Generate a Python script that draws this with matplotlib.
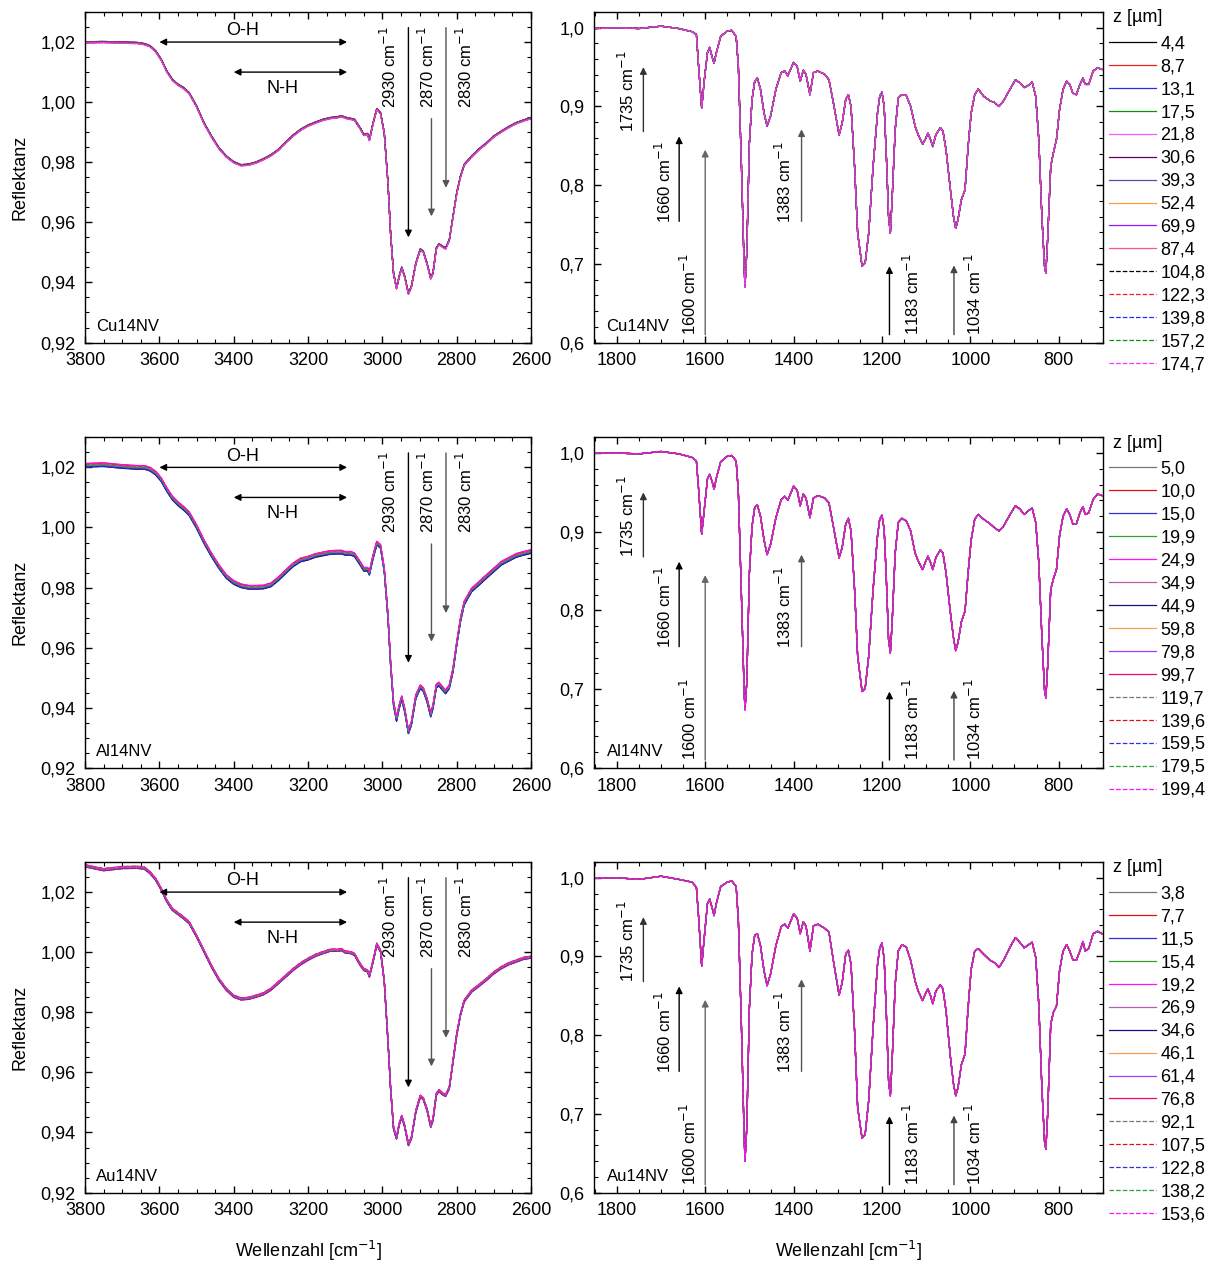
import numpy as np
import matplotlib
matplotlib.use("Agg")
import matplotlib.pyplot as plt
from matplotlib.ticker import MultipleLocator, FuncFormatter

plt.rcParams['font.family'] = ['Liberation Sans', 'DejaVu Sans']
plt.rcParams['font.size'] = 13

wn_left = [3800, 3750, 3700, 3660, 3640, 3625, 3610, 3595, 3580, 3565, 3550, 3535, 3520,
           3500, 3480, 3460, 3440, 3420, 3400, 3380, 3360, 3340, 3320, 3300, 3280, 3260,
           3240, 3220, 3200, 3180, 3160, 3140, 3120, 3110, 3100, 3085, 3075, 3060, 3050,
           3040, 3035, 3025, 3015, 3005, 2995, 2985, 2978, 2970, 2962, 2955, 2948, 2940,
           2930, 2922, 2910, 2898, 2890, 2880, 2870, 2864, 2855, 2848, 2838, 2830, 2820,
           2810, 2800, 2790, 2780, 2760, 2740, 2720, 2700, 2680, 2660, 2640, 2620, 2600]

refl_cu_left = [1.0199, 1.0200, 1.0198, 1.0197, 1.0193, 1.0186, 1.0169, 1.0141, 1.0102, 1.0074,
                1.0058, 1.0047, 1.0030, 0.9986, 0.9930, 0.9886, 0.9847, 0.9819, 0.9800, 0.9790,
                0.9792, 0.9799, 0.9810, 0.9823, 0.9841, 0.9866, 0.9889, 0.9908, 0.9922, 0.9932,
                0.9941, 0.9947, 0.9950, 0.9953, 0.9948, 0.9944, 0.9941, 0.9913, 0.9891, 0.9894,
                0.9874, 0.9930, 0.9977, 0.9963, 0.9897, 0.9730, 0.9563, 0.9430, 0.9380, 0.9419,
                0.9449, 0.9419, 0.9363, 0.9386, 0.9463, 0.9510, 0.9502, 0.9463, 0.9413, 0.9430,
                0.9513, 0.9527, 0.9519, 0.9513, 0.9541, 0.9619, 0.9697, 0.9752, 0.9791, 0.9819,
                0.9843, 0.9863, 0.9886, 0.9902, 0.9917, 0.9930, 0.9939, 0.9947]

refl_al_left = [1.0207, 1.0209, 1.0203, 1.0200, 1.0200, 1.0194, 1.0181, 1.0159, 1.0126, 1.0098,
                1.0079, 1.0064, 1.0046, 1.0003, 0.9953, 0.9909, 0.9870, 0.9837, 0.9817, 0.9806,
                0.9801, 0.9801, 0.9802, 0.9809, 0.9829, 0.9853, 0.9876, 0.9892, 0.9898, 0.9907,
                0.9912, 0.9917, 0.9918, 0.9918, 0.9914, 0.9914, 0.9909, 0.9881, 0.9861, 0.9861,
                0.9848, 0.9903, 0.9948, 0.9937, 0.9859, 0.9703, 0.9548, 0.9414, 0.9361, 0.9403,
                0.9433, 0.9392, 0.9320, 0.9348, 0.9437, 0.9470, 0.9461, 0.9426, 0.9376, 0.9403,
                0.9472, 0.9479, 0.9464, 0.9453, 0.9470, 0.9526, 0.9614, 0.9692, 0.9748, 0.9792,
                0.9814, 0.9837, 0.9859, 0.9881, 0.9894, 0.9907, 0.9914, 0.9920]

refl_au_left = [1.0287, 1.0274, 1.0281, 1.0282, 1.0279, 1.0264, 1.0242, 1.0209, 1.0170, 1.0142,
                1.0128, 1.0114, 1.0098, 1.0053, 1.0003, 0.9953, 0.9909, 0.9876, 0.9853, 0.9844,
                0.9846, 0.9853, 0.9861, 0.9876, 0.9898, 0.9920, 0.9942, 0.9961, 0.9976, 0.9989,
                0.9998, 1.0006, 1.0006, 1.0008, 1.0000, 0.9998, 0.9992, 0.9959, 0.9942, 0.9937,
                0.9920, 0.9970, 1.0026, 1.0003, 0.9903, 0.9703, 0.9548, 0.9414, 0.9381, 0.9426,
                0.9453, 0.9420, 0.9359, 0.9381, 0.9470, 0.9520, 0.9512, 0.9476, 0.9420, 0.9442,
                0.9526, 0.9539, 0.9528, 0.9523, 0.9548, 0.9637, 0.9726, 0.9792, 0.9837, 0.9870,
                0.9889, 0.9909, 0.9931, 0.9948, 0.9961, 0.9970, 0.9979, 0.9983]

wn_right = [1852, 1800, 1750, 1700, 1660, 1630, 1620, 1615, 1608, 1602, 1595, 1590, 1584, 1580,
            1575, 1565, 1550, 1540, 1530, 1525, 1518, 1512, 1510, 1506, 1500, 1494, 1488, 1482,
            1475, 1467, 1460, 1452, 1440, 1428, 1420, 1413, 1400, 1392, 1385, 1378, 1372, 1363,
            1355, 1345, 1330, 1320, 1310, 1297, 1290, 1282, 1276, 1270, 1262, 1255, 1245, 1238,
            1230, 1220, 1210, 1205, 1200, 1195, 1190, 1185, 1181, 1177, 1170, 1163, 1155, 1145,
            1135, 1125, 1118, 1108, 1102, 1096, 1090, 1085, 1078, 1068, 1062, 1055, 1045, 1038,
            1033, 1028, 1020, 1012, 1005, 998, 990, 982, 970, 955, 945, 935, 925, 910, 898, 888,
            878, 868, 860, 852, 845, 838, 832, 829, 825, 818, 812, 805, 798, 790, 782, 775, 768,
            760, 752, 745, 740, 732, 722, 712, 702]

refl_cu_right = [0.999, 1.000, 0.999, 1.002, 0.999, 0.995, 0.9915, 0.951, 0.898, 0.934, 0.968,
                 0.975, 0.962, 0.955, 0.968, 0.989, 0.996, 0.9966, 0.989, 0.951, 0.824, 0.697,
                 0.671, 0.714, 0.854, 0.909, 0.932, 0.936, 0.922, 0.892, 0.875, 0.888, 0.922,
                 0.943, 0.945, 0.939, 0.956, 0.951, 0.932, 0.946, 0.941, 0.915, 0.943, 0.945,
                 0.941, 0.934, 0.905, 0.864, 0.879, 0.909, 0.915, 0.900, 0.824, 0.739, 0.697,
                 0.701, 0.739, 0.824, 0.892, 0.913, 0.918, 0.900, 0.837, 0.760, 0.739, 0.782,
                 0.871, 0.911, 0.915, 0.914, 0.900, 0.875, 0.864, 0.852, 0.858, 0.866, 0.858,
                 0.849, 0.864, 0.873, 0.869, 0.845, 0.794, 0.760, 0.745, 0.756, 0.782, 0.794,
                 0.849, 0.892, 0.915, 0.922, 0.913, 0.907, 0.905, 0.900, 0.907, 0.922, 0.934,
                 0.930, 0.924, 0.927, 0.931, 0.913, 0.858, 0.760, 0.697, 0.688, 0.731, 0.824,
                 0.841, 0.858, 0.896, 0.922, 0.932, 0.928, 0.917, 0.915, 0.928, 0.936, 0.928,
                 0.928, 0.945, 0.949, 0.947]

refl_al_right = [1.000, 1.000, 0.999, 1.002, 0.999, 0.9945, 0.990, 0.954, 0.897, 0.929, 0.967,
                 0.973, 0.963, 0.954, 0.968, 0.989, 0.996, 0.997, 0.990, 0.950, 0.818, 0.699,
                 0.674, 0.708, 0.848, 0.907, 0.931, 0.934, 0.920, 0.890, 0.871, 0.884, 0.918,
                 0.941, 0.945, 0.940, 0.958, 0.953, 0.933, 0.948, 0.943, 0.918, 0.943, 0.946,
                 0.943, 0.937, 0.907, 0.867, 0.880, 0.910, 0.917, 0.901, 0.827, 0.742, 0.697,
                 0.701, 0.742, 0.827, 0.895, 0.916, 0.921, 0.903, 0.839, 0.763, 0.746, 0.784,
                 0.873, 0.912, 0.917, 0.914, 0.901, 0.873, 0.863, 0.852, 0.861, 0.869, 0.861,
                 0.852, 0.867, 0.877, 0.873, 0.848, 0.797, 0.765, 0.749, 0.759, 0.786, 0.799,
                 0.848, 0.890, 0.916, 0.922, 0.916, 0.910, 0.905, 0.901, 0.907, 0.922, 0.933,
                 0.929, 0.922, 0.927, 0.930, 0.912, 0.861, 0.767, 0.699, 0.689, 0.729, 0.827,
                 0.840, 0.852, 0.895, 0.920, 0.929, 0.922, 0.910, 0.910, 0.924, 0.932, 0.922,
                 0.924, 0.941, 0.948, 0.946]

refl_au_right = [1.000, 1.000, 0.998, 1.002, 0.998, 0.9945, 0.988, 0.950, 0.888, 0.925, 0.967,
                 0.973, 0.961, 0.952, 0.967, 0.989, 0.9945, 0.996, 0.989, 0.946, 0.810, 0.674,
                 0.640, 0.682, 0.835, 0.903, 0.927, 0.929, 0.914, 0.882, 0.863, 0.878, 0.914,
                 0.938, 0.941, 0.936, 0.954, 0.949, 0.929, 0.944, 0.939, 0.907, 0.939, 0.941,
                 0.936, 0.931, 0.895, 0.851, 0.867, 0.903, 0.908, 0.890, 0.806, 0.708, 0.669,
                 0.674, 0.717, 0.810, 0.890, 0.911, 0.917, 0.897, 0.827, 0.742, 0.723, 0.767,
                 0.865, 0.907, 0.915, 0.912, 0.895, 0.869, 0.856, 0.844, 0.852, 0.859, 0.850,
                 0.840, 0.856, 0.864, 0.859, 0.831, 0.772, 0.738, 0.723, 0.733, 0.763, 0.776,
                 0.835, 0.884, 0.907, 0.910, 0.903, 0.895, 0.892, 0.886, 0.895, 0.912, 0.924,
                 0.918, 0.911, 0.915, 0.918, 0.899, 0.839, 0.733, 0.665, 0.655, 0.699, 0.814,
                 0.829, 0.837, 0.882, 0.907, 0.915, 0.907, 0.896, 0.895, 0.907, 0.919, 0.907,
                 0.910, 0.929, 0.932, 0.929]

# Messtiefen z [um]
z_cu = ['4,4', '8,7', '13,1', '17,5', '21,8', '30,6', '39,3', '52,4', '69,9', '87,4',
        '104,8', '122,3', '139,8', '157,2', '174,7']
z_al = ['5,0', '10,0', '15,0', '19,9', '24,9', '34,9', '44,9', '59,8', '79,8', '99,7',
        '119,7', '139,6', '159,5', '179,5', '199,4']
z_au = ['3,8', '7,7', '11,5', '15,4', '19,2', '26,9', '34,6', '46,1', '61,4', '76,8',
        '92,1', '107,5', '122,8', '138,2', '153,6']

# kleine Streuung der einzelnen Tiefen um die Mittelkurve (linke Bereiche)
spread_cu = [0.0001, -0.0001, 0.0002, 0.0, -0.0002, 0.0001, -0.0001, 0.0, 0.0002, -0.0002,
             0.0001, 0.0002, -0.0001, 0.0, -0.0002]
spread_al = [-0.0006, 0.0004, -0.0003, 0.0002, 0.0005, -0.0004, -0.0006, 0.0003, 0.0, 0.0006,
             -0.0002, 0.0004, -0.0005, 0.0001, 0.0006]
spread_au = [0.0002, 0.0004, -0.0002, 0.0001, -0.0003, 0.0003, -0.0001, 0.0, 0.0002, -0.0003,
             0.0001, 0.0004, -0.0002, 0.0, 0.0003]

colors_cu = ['black', '#ee2020', '#2030ee', '#109010', '#ff55ff', '#660060', '#5050a8',
             '#ff9a40', '#8a1aff', '#ff5090', 'black', '#ee2020', '#2030ee', '#109010', '#ff30ff']
colors_ag = ['#777777', '#e01010', '#3030d8', '#30a030', '#ff10ff', '#b060b0', '#101080',
             '#f5a050', '#a040ff', '#ff0070', '#777777', '#e01010', '#3030d8', '#30a030', '#ff10ff']
styles = ['-'] * 10 + ['--'] * 5

samples = [
    ('Cu14NV', refl_cu_left, refl_cu_right, z_cu, spread_cu, colors_cu),
    ('Al14NV', refl_al_left, refl_al_right, z_al, spread_al, colors_ag),
    ('Au14NV', refl_au_left, refl_au_right, z_au, spread_au, colors_ag),
]


def komma(x, nd):
    return f'{x:.{nd}f}'.replace('.', ',')


def style_axes(ax):
    ax.tick_params(which='both', direction='in', top=True, right=True, labelsize=13)
    ax.tick_params(which='major', length=5, width=1, pad=7)
    ax.tick_params(which='minor', length=3, width=0.8)
    for s in ax.spines.values():
        s.set_linewidth(1.0)


def pfeil(ax, x, y0, y1, color='black'):
    ax.annotate('', xy=(x, y1), xytext=(x, y0),
                arrowprops=dict(arrowstyle='-|>', color=color, lw=1.0,
                                mutation_scale=10, shrinkA=0, shrinkB=0))


fig = plt.figure(figsize=(12.22, 12.64), dpi=100)
row_bottoms = [0.729, 0.3925, 0.0565]
h = 0.2615

for r, (name, yl, yr, z, spread, cols) in enumerate(samples):
    axl = fig.add_axes([0.0696, row_bottoms[r], 0.365, h])
    axr = fig.add_axes([0.486, row_bottoms[r], 0.4165, h])

    # linker Bereich: O-H / N-H / C-H
    for i in range(15):
        axl.plot(wn_left, np.array(yl) + spread[i], color=cols[i], ls=styles[i], lw=0.9)
    axl.set_xlim(3800, 2600)
    axl.set_ylim(0.92, 1.03)
    axl.xaxis.set_major_locator(MultipleLocator(200))
    axl.xaxis.set_minor_locator(MultipleLocator(50))
    axl.yaxis.set_major_locator(MultipleLocator(0.02))
    axl.yaxis.set_minor_locator(MultipleLocator(0.005))
    axl.yaxis.set_major_formatter(FuncFormatter(lambda x, p: komma(x, 2)))
    style_axes(axl)
    axl.set_ylabel('Reflektanz', fontsize=13, labelpad=8)
    axl.text(0.025, 0.035, name, transform=axl.transAxes, fontsize=12)

    axl.annotate('', xy=(3600, 1.02), xytext=(3095, 1.02),
                 arrowprops=dict(arrowstyle='<|-|>', color='black', lw=1.0,
                                 mutation_scale=10, shrinkA=0, shrinkB=0))
    axl.text(3375, 1.0237, 'O-H', ha='center', va='center', fontsize=13)
    axl.annotate('', xy=(3400, 1.01), xytext=(3095, 1.01),
                 arrowprops=dict(arrowstyle='<|-|>', color='black', lw=1.0,
                                 mutation_scale=10, shrinkA=0, shrinkB=0))
    axl.text(3268, 1.0047, 'N-H', ha='center', va='center', fontsize=13)
    pfeil(axl, 2930, 1.0248, 0.955)
    pfeil(axl, 2868, 0.9945, 0.962, '#555555')
    pfeil(axl, 2829, 1.0248, 0.9715, '#555555')
    for xt, lab in [(2983, '2930'), (2880, '2870'), (2777, '2830')]:
        axl.text(xt, 1.0255, lab + r' cm$^{-1}$', rotation=90, ha='center', va='top', fontsize=12)

    # rechter Bereich: Fingerprint
    for i in range(15):
        axr.plot(wn_right, yr, color=cols[i], ls=styles[i], lw=0.9, label=z[i])
    axr.set_xlim(1852, 700)
    axr.set_ylim(0.6, 1.02)
    axr.xaxis.set_major_locator(MultipleLocator(200))
    axr.xaxis.set_minor_locator(MultipleLocator(50))
    axr.yaxis.set_major_locator(MultipleLocator(0.1))
    axr.yaxis.set_minor_locator(MultipleLocator(0.02))
    axr.yaxis.set_major_formatter(FuncFormatter(lambda x, p: komma(x, 1)))
    style_axes(axr)
    axr.text(0.025, 0.035, name, transform=axr.transAxes, fontsize=12)

    pfeil(axr, 1740, 0.868, 0.950, '#333333')
    pfeil(axr, 1659, 0.754, 0.862)
    pfeil(axr, 1600, 0.610, 0.845, '#666666')
    pfeil(axr, 1382, 0.754, 0.871, '#555555')
    pfeil(axr, 1183, 0.610, 0.697)
    pfeil(axr, 1037, 0.610, 0.698, '#444444')
    for xt, yb, lab in [(1777, 0.868, '1735'), (1693, 0.752, '1660'), (1636, 0.610, '1600'),
                        (1422, 0.752, '1383'), (1132, 0.610, '1183'), (991, 0.610, '1034')]:
        axr.text(xt, yb, lab + r' cm$^{-1}$', rotation=90, ha='center', va='bottom', fontsize=12)

    # Legende rechts neben dem Diagramm
    axr.text(1.019, 0.982, 'z [µm]', transform=axr.transAxes, ha='left', va='center', fontsize=13)
    axr.legend(loc='upper left', bbox_to_anchor=(1.012, 0.93), frameon=False,
               fontsize=13, handlelength=2.6, handletextpad=0.25, labelspacing=0.33,
               borderpad=0.0, borderaxespad=0.0)

    if r == 2:
        axl.set_xlabel(r'Wellenzahl [cm$^{-1}$]', fontsize=13, labelpad=14)
        axr.set_xlabel(r'Wellenzahl [cm$^{-1}$]', fontsize=13, labelpad=14)

fig.savefig('out.png', dpi=100)
